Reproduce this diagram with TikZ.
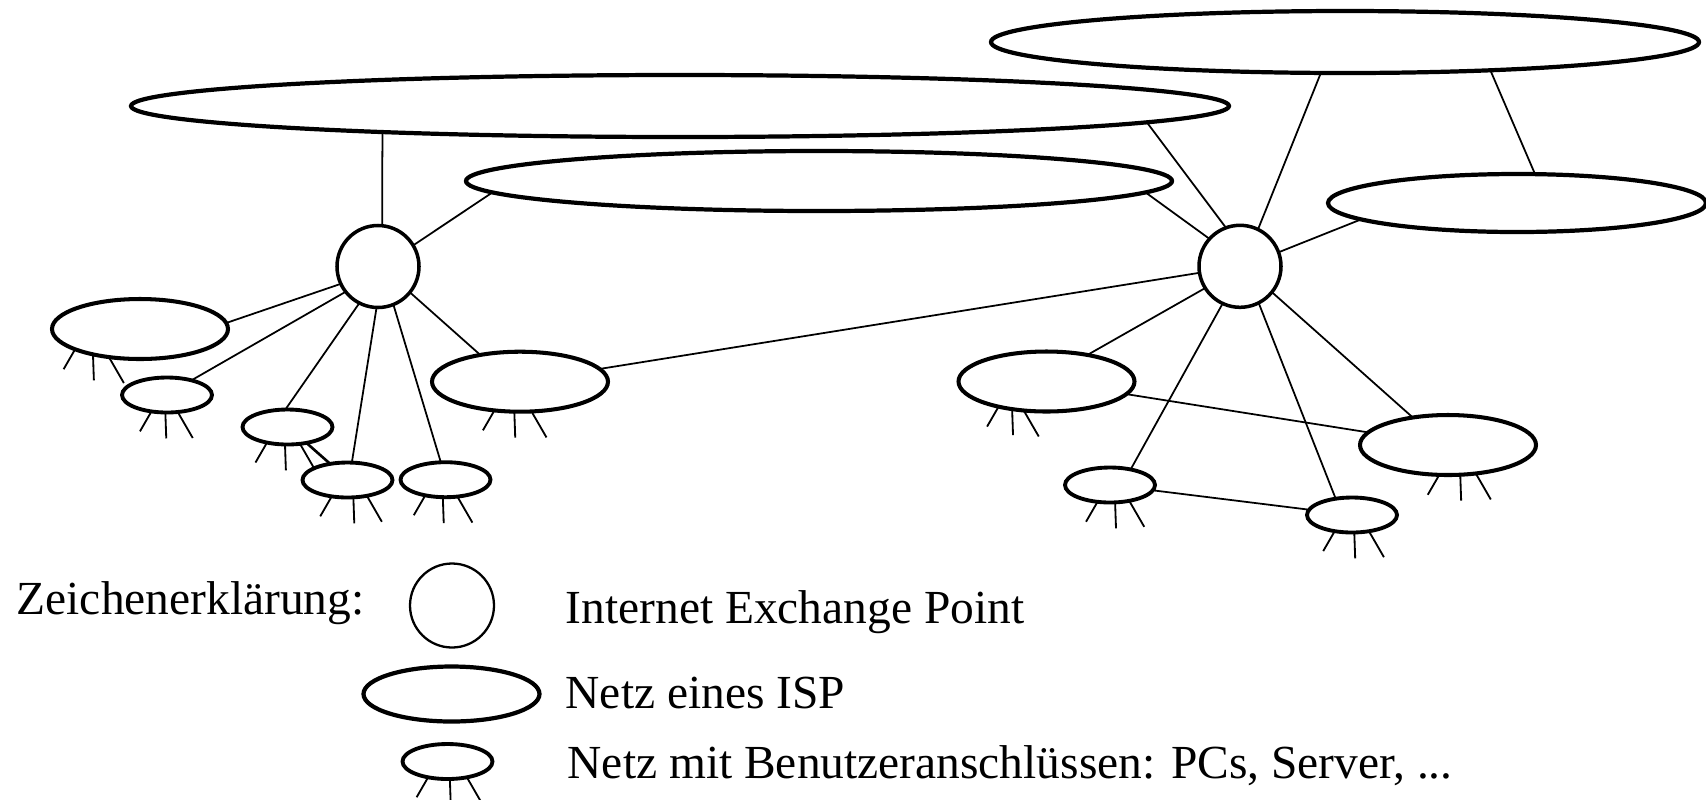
\documentclass[tikz,border=0pt]{standalone}
\usepackage{fontspec}
\setmainfont{Liberation Serif}
\usetikzlibrary{shapes.geometric,calc}

% drei Anschluesse unter einem Netz: Knoten, rx, ry, drei Winkel
\newcommand{\beine}[6]{%
  \draw[bein] ($(#1)+(#4:#2 and #3)$) -- ++(240:0.23);
  \draw[bein] ($(#1)+(#5:#2 and #3)$) -- ++(272:0.26);
  \draw[bein] ($(#1)+(#6:#2 and #3)$) -- ++(300:0.30);
}

\begin{document}
\begin{tikzpicture}[
    isp/.style={ellipse,draw,line width=1.2pt,inner sep=0pt,outer sep=0pt},
    netz/.style={ellipse,draw,line width=1.1pt,inner sep=0pt,outer sep=0pt,minimum width=0.9cm,minimum height=0.35cm},
    grossnetz/.style={ellipse,draw,line width=1.15pt,inner sep=0pt,outer sep=0pt,minimum width=1.76cm,minimum height=0.6cm},
    ixp/.style={circle,draw,line width=1pt,inner sep=0pt,outer sep=0pt,minimum size=0.82cm},
    verb/.style={line width=0.5pt},
    bein/.style={line width=0.52pt},
    legende/.style={anchor=base west,inner sep=0pt,font=\fontsize{13.5}{16}\selectfont}]
    \useasboundingbox (0,0) rectangle (17.06,-7.99);

    % ISP-Netze
    \node (A) at (6.80,-1.06) [isp,minimum width=10.98cm,minimum height=0.62cm] {};
    \node (B) at (8.19,-1.81) [isp,minimum width=7.06cm,minimum height=0.60cm] {};
    \node (C) at (13.45,-0.42) [isp,minimum width=7.08cm,minimum height=0.62cm] {};
    \node (D) at (15.17,-2.03) [isp,minimum width=3.78cm,minimum height=0.58cm] {};

    % Internet Exchange Points
    \node (IXP1) at (3.78,-2.665) [ixp] {};
    \node (IXP2) at (12.40,-2.663) [ixp] {};

    % Netze mit Benutzeranschluessen
    \node (E1) at (1.40,-3.29) [grossnetz] {};
    \node (E2) at (1.67,-3.95) [netz] {};
    \node (E3) at (2.875,-4.27) [netz] {};
    \node (E4) at (3.475,-4.80) [netz] {};
    \node (E5) at (4.455,-4.797) [netz] {};
    \node (E6) at (5.20,-3.817) [grossnetz] {};
    \node (E7) at (10.465,-3.815) [grossnetz] {};
    \node (E8) at (14.48,-4.45) [grossnetz] {};
    \node (E9) at (11.10,-4.85) [netz] {};
    \node (E10) at (13.52,-5.15) [netz] {};

    % Anschluesse
    \beine{E1}{0.88}{0.30}{222.5}{237.7}{249.3}
    \beine{E2}{0.45}{0.175}{249.8}{267.9}{283.8}
    \beine{E3}{0.45}{0.175}{242.9}{266.8}{286.1}
    \beine{E4}{0.45}{0.175}{249.5}{277.5}{295.5}
    \beine{E5}{0.45}{0.175}{243.3}{266.6}{285.3}
    \beine{E6}{0.88}{0.30}{253.1}{266.3}{277.5}
    \beine{E7}{0.88}{0.30}{237}{247}{255}
    \beine{E8}{0.88}{0.30}{264.3}{278}{288.4}
    \beine{E9}{0.45}{0.175}{253.9}{276.5}{295.3}
    \beine{E10}{0.45}{0.175}{247.4}{272.9}{292.1}

    % Verbindungen links
    \draw[verb] (IXP1.84) -- (A.185); % A -> IXP1
    \draw[verb] (IXP1.31) -- (B.182); % IXP1 -> B
    \draw[verb] (IXP1.205) -- (E1.4);
    \draw[verb] (IXP1.218) -- (E2.31);
    \draw[verb] (IXP1.243) -- (E3.97);
    \draw[verb] (IXP1.268) -- (E4.76);
    \draw[verb] (IXP1.292) -- (E5.105);
    \draw[verb] (IXP1.321) -- (E6.146);
    \draw[line width=0.75pt] (E3.320) -- (E4.137); % E3 -> E4

    % Verbindungen rechts
    \draw[verb] (E6) -- (IXP2);
    \draw[verb] (IXP2.110) -- (A.358.5); % IXP2 -> A
    \draw[verb] (IXP2.138) -- (B.358); % IXP2 -> B
    \draw[verb] (IXP2.64) -- (C.232); % IXP2 -> C
    \draw[verb] (IXP2.20) -- (D.186); % IXP2 -> D
    \draw[verb] (C.349) -- (D.58); % C -> D
    \draw[verb] (IXP2.212) -- (E7.33);
    \draw[verb] (IXP2.245) -- (E9.37);
    \draw[verb] (IXP2.297) -- (E10.135);
    \draw[verb] (IXP2.321) -- (E8.142);
    \draw[verb] (E7) -- (E8);
    \draw[verb] (E9) -- (E10);

    % Legende
    \node (T0) at (0.16,-6.14) [legende] {Zeichenerklärung:};
    \node (LX) at (4.52,-6.055) [circle,draw,line width=0.65pt,inner sep=0pt,minimum size=0.84cm] {};
    \node (T1) at (5.65,-6.23) [legende] {Internet Exchange Point};
    \node (LI) at (4.515,-6.94) [isp,minimum width=1.76cm,minimum height=0.55cm] {};
    \node (T2) at (5.65,-7.08) [legende] {Netz eines ISP};
    \node (LN) at (4.475,-7.615) [netz] {};
    \beine{LN}{0.45}{0.175}{244.5}{273}{295.5}
    \node (T3) at (5.67,-7.78) [legende] {Netz mit Benutzeranschlüssen: PCs, Server, ...};
\end{tikzpicture}
\end{document}
